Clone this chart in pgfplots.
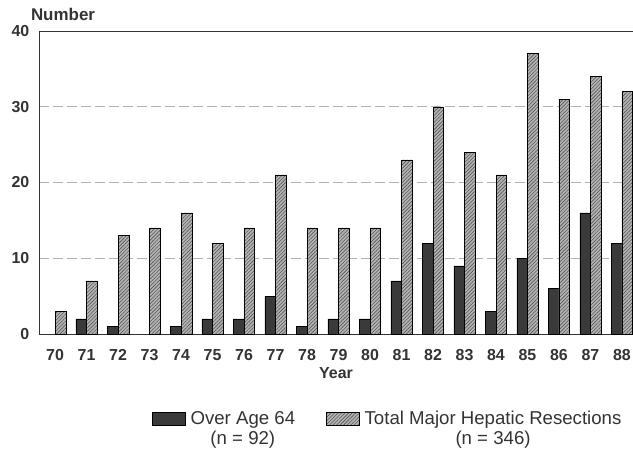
\documentclass[border=0pt]{standalone}
\usepackage{fontspec}
\setmainfont{Liberation Sans}
\usepackage{pgfplots}
\pgfplotsset{compat=1.18}
\usetikzlibrary{patterns.meta}
\definecolor{txt}{HTML}{333333}
\definecolor{darkbar}{HTML}{3A3A3A}
\definecolor{hatchbg}{HTML}{B4B4B4}
\definecolor{hatchln}{HTML}{555555}
\pgfplotsset{swatch legend/.style={legend image code/.code={\draw[##1] (0bp,-6.5bp) rectangle (33bp,6.5bp);}}}
\begin{document}
\begin{tikzpicture}
\begin{axis}[name=ax,
  scale only axis, width=594bp, height=303bp,
  xmin=69.49, xmax=88.35, ymin=0, ymax=40,
  axis x line=box, axis y line=left,
  axis line style={draw=txt, line width=0.9bp, -},
  x axis line style={-}, y axis line style={-},
  ytick={0,10,20,30,40},
  xtick={70,...,88},
  ymajorgrids,
  grid style={dash pattern=on 10bp off 4bp, draw=gray!60, line width=0.6bp},
  tick style={draw=none},
  /pgf/number format/assume math mode=true,
  ticklabel style={font=\fontsize{16}{19}\selectfont\bfseries, text=txt},
  xticklabel style={yshift=-7.5bp},
  yticklabel style={xshift=-4bp},
  xlabel={Year},
  xlabel style={font=\fontsize{16}{19}\selectfont\bfseries, text=txt},
  ylabel={Number},
  every axis y label/.style={at={(axis description cs:0,1)}, anchor=base west, xshift=-11.5bp, yshift=11bp, font=\fontsize{17}{20}\selectfont\bfseries, text=txt},
  ybar, bar width=0.34,
  legend columns=2,
  legend cell align=center,
  legend style={draw=none, fill=none, at={(axis description cs:0.19,-0.251)}, anchor=north west, inner sep=0pt,
    font=\fontsize{18.7}{21}\selectfont, text=txt, nodes={inner sep=1bp}, row sep=2.5bp,
    /tikz/every odd column/.append style={column sep=4bp},
    /tikz/every even column/.append style={column sep=30bp}},
]
\addplot[fill=darkbar, draw=black, line width=0.5bp, bar shift=-0.17, swatch legend] coordinates {
(71,2) (72,1) (74,1) (75,2) (76,2) (77,5) (78,1) (79,2) (80,2) (81,7) (82,12) (83,9) (84,3) (85,10) (86,6) (87,16) (88,12)};
\addplot[fill=hatchbg, draw=black, line width=0.5bp, bar shift=0.17,
  postaction={pattern color=hatchln, pattern={Lines[angle=45, distance=2.5bp, line width=0.6bp]}}, swatch legend] coordinates {
(70,3) (71,7) (72,13) (73,14) (74,16) (75,12) (76,14) (77,21) (78,14) (79,14) (80,14) (81,23) (82,30) (83,24) (84,21) (85,37) (86,31) (87,34) (88,32)};
\addlegendimage{legend image code/.code={\path[draw=none, fill=none] (0bp,0bp) rectangle (33bp,1bp);}}
\addlegendimage{legend image code/.code={\path[draw=none, fill=none] (0bp,0bp) rectangle (33bp,1bp);}}
\legend{Over Age 64, Total Major Hepatic Resections, (n = 92), (n = 346)}
\end{axis}
\pgfresetboundingbox
\path[use as bounding box] ([shift={(-39bp,-120bp)}]ax.south west) rectangle ([shift={(594bp,334bp)}]ax.south west);
\end{tikzpicture}
\end{document}
